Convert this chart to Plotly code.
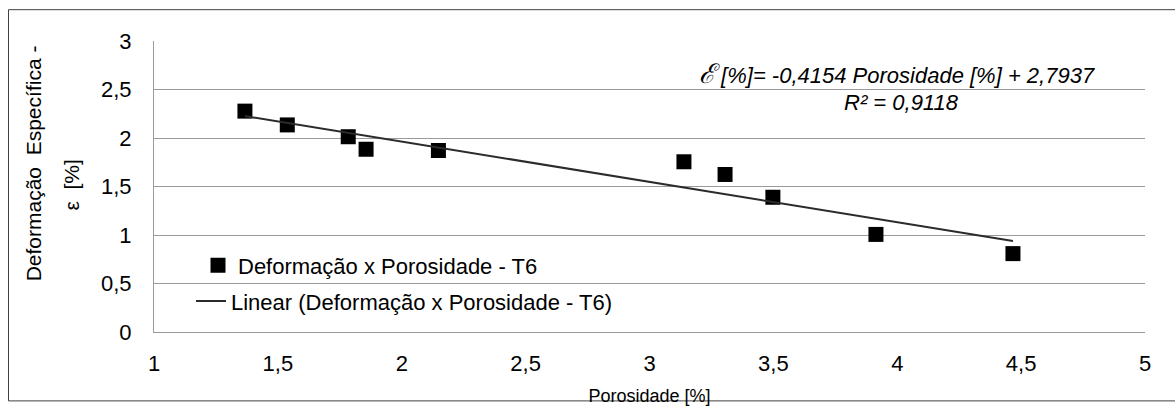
import plotly.graph_objects as go

# ---- data ----
porosidade = [1.367, 1.538, 1.784, 1.856, 2.148, 3.139, 3.305, 3.498, 3.914, 4.467]
deformacao = [2.277, 2.135, 2.013, 1.884, 1.871, 1.755, 1.624, 1.389, 1.006, 0.808]
trend_slope = -0.4154
trend_intercept = 2.7937
r_squared = "0,9118"

x_tick_vals = [1, 1.5, 2, 2.5, 3, 3.5, 4, 4.5, 5]
x_tick_text = ["1", "1,5", "2", "2,5", "3", "3,5", "4", "4,5", "5"]
y_tick_vals = [0, 0.5, 1, 1.5, 2, 2.5, 3]
y_tick_text = ["0", "0,5", "1", "1,5", "2", "2,5", "3"]

series_name = "Deformação x Porosidade - T6"
trend_name = "Linear (Deformação x Porosidade - T6)"
x_title = "Porosidade [%]"
y_title_1 = "Deformação\u00a0\u00a0Específica -"
y_title_2 = "ε\u00a0\u00a0[%]"
eq_symbol = "ℰ"
eq_line_1 = " [%]= -0,4154 Porosidade [%] + 2,7937"
eq_line_2 = "R² = " + r_squared

# ---- figure ----
W, H = 1175, 414
L, R, T, B = 154, 30, 41, 71
pw, ph = W - L - R, H - T - B


def px(xp):
    return (xp - L) / pw


def py(yp):
    return (H - B - yp) / ph


FONT = "Liberation Sans, Arial, sans-serif"
FS = 22
GRID = "#9a9a9a"

trend_x = [min(porosidade), max(porosidade)]
trend_y = [trend_slope * v + trend_intercept for v in trend_x]

fig = go.Figure()
fig.add_trace(go.Scatter(
    x=porosidade, y=deformacao, mode="markers", name=series_name,
    marker=dict(symbol="square", size=15, color="#000000"),
    legend="legend",
))
fig.add_trace(go.Scatter(
    x=trend_x, y=trend_y, mode="lines", name=trend_name,
    line=dict(color="#2b2b2b", width=2),
    legend="legend2",
))

fig.update_layout(
    width=W, height=H, autosize=False,
    margin=dict(l=L, r=R, t=T, b=B, pad=0),
    paper_bgcolor="white", plot_bgcolor="white",
    font=dict(family=FONT, size=FS, color="#000000"),
    xaxis=dict(
        range=[1, 5], tickmode="array", tickvals=x_tick_vals, ticktext=x_tick_text,
        showgrid=False, zeroline=False, showline=True, linecolor=GRID, linewidth=1,
        ticks="", ticklabelstandoff=12, tickfont=dict(size=FS),
        title=dict(text=x_title, standoff=13, font=dict(size=18)),
    ),
    yaxis=dict(
        range=[0, 3], tickmode="array", tickvals=y_tick_vals, ticktext=y_tick_text,
        showgrid=True, gridcolor=GRID, gridwidth=1, zeroline=False,
        showline=True, linecolor=GRID, linewidth=1,
        ticks="", ticklabelstandoff=17, tickfont=dict(size=FS),
    ),
    legend=dict(
        x=px(198), y=py(274), xanchor="left", yanchor="middle",
        bgcolor="rgba(0,0,0,0)", borderwidth=0, font=dict(size=FS),
    ),
    legend2=dict(
        x=px(191), y=py(311), xanchor="left", yanchor="middle",
        bgcolor="rgba(0,0,0,0)", borderwidth=0, font=dict(size=FS),
    ),
    showlegend=True,
)

fig.add_annotation(x=px(33), y=py(168), xref="paper", yref="paper",
                   text=y_title_1, textangle=-90, showarrow=False,
                   xanchor="center", yanchor="middle", font=dict(size=21))
fig.add_annotation(x=px(72), y=py(191), xref="paper", yref="paper",
                   text=y_title_2, textangle=-90, showarrow=False,
                   xanchor="center", yanchor="middle", font=dict(size=21))
fig.add_annotation(x=px(897), y=py(75), xref="paper", yref="paper",
                   text="<i><span style='font-size:27px'>" + eq_symbol + "</span>"
                        + eq_line_1 + "</i>",
                   showarrow=False, xanchor="center", yanchor="middle",
                   font=dict(size=FS))
fig.add_annotation(x=px(901), y=py(105), xref="paper", yref="paper",
                   text="<i>" + eq_line_2 + "</i>", showarrow=False,
                   xanchor="center", yanchor="middle", font=dict(size=FS))

# outer chart border
fig.add_shape(type="rect", xref="paper", yref="paper",
              x0=px(8.5), x1=px(1175.5), y0=py(414.5), y1=py(8.5),
              line=dict(color="#404040", width=1), layer="above")

fig.write_html("out.html", config={"displayModeBar": False},
               post_script="document.body.style.margin='0px';")
